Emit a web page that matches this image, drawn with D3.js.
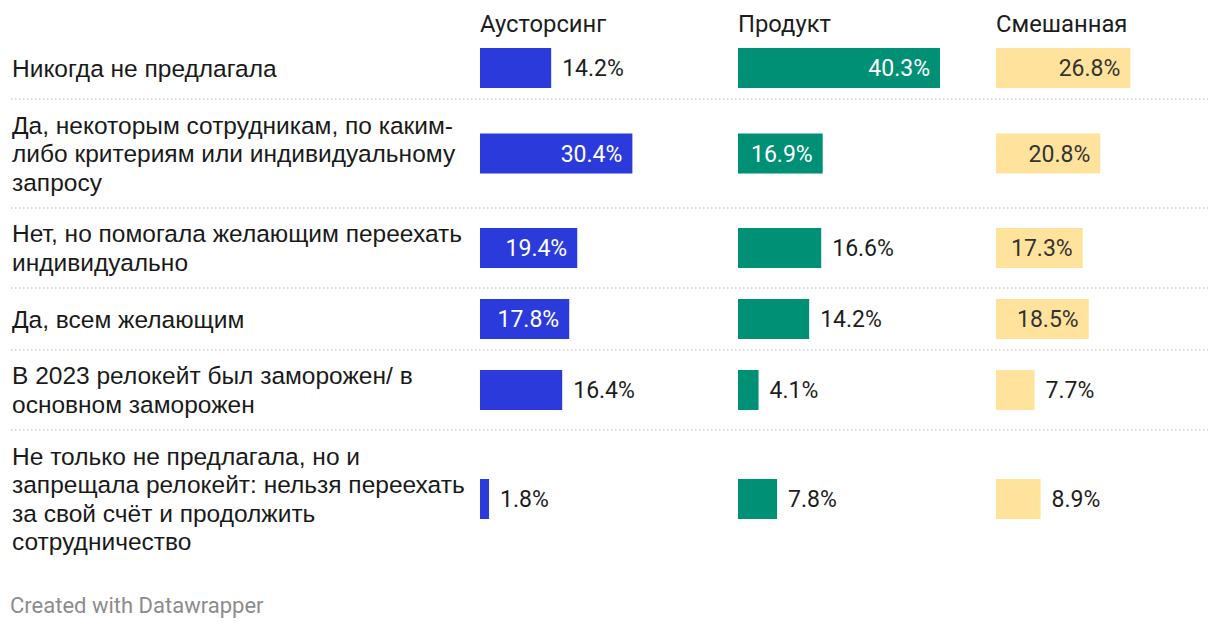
<!DOCTYPE html>
<html>
<head>
<meta charset="utf-8">
<script src="https://cdn.jsdelivr.net/npm/d3@7"></script>
<style>
  body { margin: 0; background: #fff; }
  svg { display: block; }
</style>
</head>
<body>
<script>
// answers (row labels, already wrapped the way the chart shows them)
const categories = [
    ["Никогда не предлагала"],
    ["Да, некоторым сотрудникам, по каким-", "либо критериям или индивидуальному", "запросу"],
    ["Нет, но помогала желающим переехать", "индивидуально"],
    ["Да, всем желающим"],
    ["В 2023 релокейт был заморожен/ в", "основном заморожен"],
    ["Не только не предлагала, но и", "запрещала релокейт: нельзя переехать", "за свой счёт и продолжить", "сотрудничество"]
];
const seriesNames = ["Аусторсинг", "Продукт", "Смешанная"];
const outsourcing = [14.2, 30.4, 19.4, 17.8, 16.4, 1.8];
const product = [40.3, 16.9, 16.6, 14.2, 4.1, 7.8];
const mixed = [26.8, 20.8, 17.3, 18.5, 7.7, 8.9];
const footer = "Created with Datawrapper";

const seriesValues = [outsourcing, product, mixed];
const colors = ["#2b3adb", "#009076", "#ffe39c"];
const insideText = ["#fff", "#fff", "#333"];

const width = 1220, height = 632;
const lineH = 28.5, rowLine = 29, barH = 40, rowPad = 22, chartTop = 37;

const svg = d3.select('body').append('svg')
    .attr('width', width)
    .attr('height', height);

// row geometry from number of label lines
const rowHeights = categories.map(c => Math.max(barH, c.length * rowLine) + rowPad);
const rowTops = [chartTop, ...Array.from(d3.cumsum(rowHeights), v => chartTop + v)];

// columns
const col = d3.scaleBand()
    .domain(seriesNames)
    .range([480, 480 + 3 * 258]);

const allVals = seriesValues.flat();
const x = d3.scaleLinear()
    .domain([0, d3.max(allVals)])
    .range([0, 202]);

// headers
svg.selectAll('.header')
    .data(seriesNames)
    .enter()
    .append('text')
    .attr('x', d => col(d))
    .attr('y', 32)
    .attr('font-family', 'Roboto')
    .attr('font-size', 23.8)
    .attr('fill', '#1d1d1d')
    .text(d => d);

// dotted separators
svg.selectAll('.sep')
    .data(rowTops.slice(1, categories.length))
    .enter()
    .append('line')
    .attr('x1', 11)
    .attr('x2', 1208)
    .attr('y1', d => d)
    .attr('y2', d => d)
    .attr('stroke', '#cfcfcf')
    .attr('stroke-width', 1.5)
    .attr('stroke-dasharray', '1.5,2.5');

// row labels
categories.forEach((lines, i) => {
    const cy = rowTops[i] + rowHeights[i] / 2;
    const t = svg.append('text')
        .style('font-family', "'Liberation Sans', Arial, sans-serif")
        .attr('font-size', 24.5)
        .attr('fill', '#1a1a1a');
    lines.forEach((l, j) => {
        t.append('tspan')
            .attr('x', 12)
            .attr('y', cy + (j - (lines.length - 1) / 2) * lineH)
            .attr('dy', '0.35em')
            .text(l);
    });
});

// bars and value labels
seriesNames.forEach((name, s) => {
    const g = svg.append('g').attr('transform', `translate(${col(name)},0)`);
    seriesValues[s].forEach((v, i) => {
        const cy = rowTops[i] + rowHeights[i] / 2;
        const w = x(v);
        g.append('rect')
            .attr('x', 0)
            .attr('y', cy - barH / 2)
            .attr('width', w)
            .attr('height', barH)
            .attr('fill', colors[s]);
        const lbl = g.append('text')
            .attr('y', cy)
            .attr('dy', '0.36em')
            .attr('font-family', 'Roboto')
            .attr('font-size', 23)
            .text(v.toFixed(1) + '%');
        const tw = lbl.node().getComputedTextLength();
        if (w >= tw + 22) {
            lbl.attr('x', w - 10).attr('text-anchor', 'end').attr('fill', insideText[s]);
        } else {
            lbl.attr('x', w + 11).attr('fill', '#1d1d1d');
        }
    });
});

// footer
svg.append('text')
    .attr('x', 10)
    .attr('y', 613)
    .attr('font-family', 'Roboto')
    .attr('font-size', 22)
    .attr('fill', '#8c8c8c')
    .text(footer);
</script>
</body>
</html>
